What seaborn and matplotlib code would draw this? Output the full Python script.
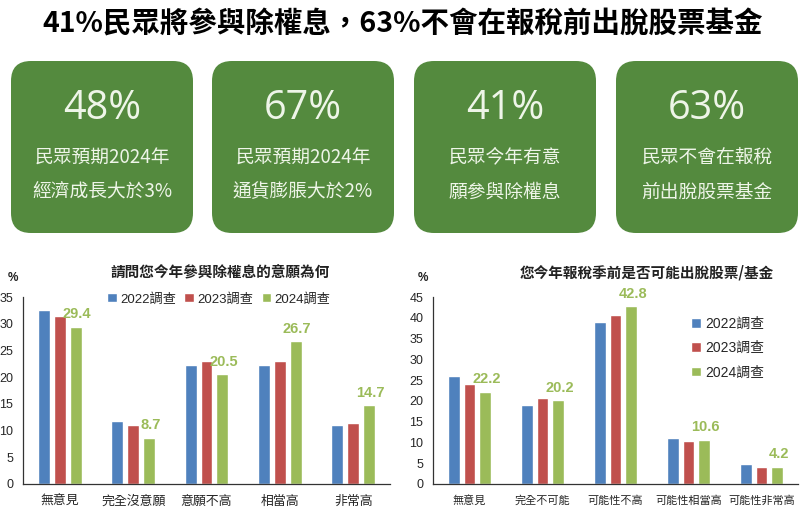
import matplotlib
matplotlib.use("Agg")
import matplotlib.pyplot as plt
from matplotlib.patches import FancyBboxPatch
from matplotlib.ticker import FixedLocator, NullFormatter
import seaborn as sns
import pandas as pd

sns.set_style("white")
CJK = ['Noto Sans CJK TC', 'DejaVu Sans']
NUM = ['Liberation Sans', 'Noto Sans CJK TC', 'DejaVu Sans']
plt.rcParams['font.family'] = CJK

# ---------------- data ----------------
title = "41%民眾將參與除權息，63%不會在報稅前出脫股票基金"
card_values = ["48%", "67%", "41%", "63%"]
card_line1 = ["民眾預期2024年", "民眾預期2024年", "民眾今年有意", "民眾不會在報稅"]
card_line2 = ["經濟成長大於3%", "通貨膨脹大於2%", "願參與除權息", "前出脫股票基金"]

series = ["2022調查", "2023調查", "2024調查"]

left_title = "請問您今年參與除權息的意願為何"
left_cats = ["無意見", "完全沒意願", "意願不高", "相當高", "非常高"]
left_2022 = [32.6, 11.8, 22.2, 22.2, 11.0]
left_2023 = [31.4, 11.0, 23.0, 23.0, 11.4]
left_2024 = [29.4, 8.7, 20.5, 26.7, 14.7]

right_title = "您今年報稅季前是否可能出脫股票/基金"
right_cats = ["無意見", "完全不可能", "可能性不高", "可能性相當高", "可能性非常高"]
right_2022 = [26.0, 19.0, 39.0, 11.0, 4.7]
right_2023 = [24.0, 20.6, 40.6, 10.3, 4.0]
right_2024 = [22.2, 20.2, 42.8, 10.6, 4.2]

colors = ["#4F81BD", "#C0504D", "#9BBB59"]

W, H = 806, 519
fig = plt.figure(figsize=(W / 100, H / 100), dpi=100)
fig.patch.set_facecolor("white")

# ---------------- header (pixel coordinates) ----------------
bg = fig.add_axes([0, 0, 1, 1])
bg.set_xlim(0, W)
bg.set_ylim(H, 0)
bg.axis("off")
bg.text(403, 24, title, ha="center", va="center", fontsize=20.5,
        fontweight="bold", color="black", family=CJK)

box_x = [11, 212, 414, 616]
box_w = 182
box_top, box_bot = 61, 233
for i in range(4):
    r = 20
    p = FancyBboxPatch((box_x[i] + r, box_top + r), box_w - 2 * r, box_bot - box_top - 2 * r,
                       boxstyle=f"round,pad={r}", facecolor="#548A3E", edgecolor="none")
    bg.add_patch(p)
    cx = box_x[i] + box_w / 2
    bg.text(cx, 109, card_values[i], ha="center", va="center", fontsize=28.5,
            color="#EEF5E8", family=['Open Sans', 'Noto Sans CJK TC'])
    bg.text(cx, 157, card_line1[i], ha="center", va="center", fontsize=13.5,
            color="#EEF5E8", family=CJK)
    bg.text(cx, 192, card_line2[i], ha="center", va="center", fontsize=13.5,
            color="#EEF5E8", family=CJK)


def make_chart(rect, cats, vals, ymax, ttl, title_x, pct_x, legend_kw, xlab_size):
    ax = fig.add_axes(rect)
    df = pd.DataFrame({
        "cat": cats * 3,
        "val": vals[0] + vals[1] + vals[2],
        "series": [s for s in series for _ in cats],
    })
    sns.barplot(data=df, x="cat", y="val", hue="series", palette=colors,
                width=0.65, gap=0.25, ax=ax, saturation=1, errorbar=None)
    ax.set_xlim(-0.5, len(cats) - 0.5)
    ax.set_ylim(0, ymax)
    ax.set_yticks(range(0, ymax + 1, 5))
    ax.set_xlabel("")
    ax.set_ylabel("")
    for s in ["top", "right"]:
        ax.spines[s].set_visible(False)
    for s in ["left", "bottom"]:
        ax.spines[s].set_color("#333333")
        ax.spines[s].set_linewidth(0.9)
    ax.tick_params(axis="x", which="major", length=0, pad=8, labelsize=xlab_size)
    ax.xaxis.set_minor_locator(FixedLocator([i - 0.5 for i in range(len(cats) + 1)]))
    ax.xaxis.set_minor_formatter(NullFormatter())
    ax.tick_params(axis="x", which="minor", length=4, width=0.9, color="#333333")
    ax.tick_params(axis="y", length=4, width=0.9, color="#333333", labelsize=9, pad=3)
    for lab in ax.get_yticklabels():
        lab.set_family(NUM)
    for lab in ax.get_xticklabels():
        lab.set_family(CJK)
    # labels on 2024 bars
    green = ax.containers[2]
    for bar, v in zip(green, vals[2]):
        ax.annotate(f"{v:.1f}", (bar.get_x() + bar.get_width() / 2, bar.get_height()),
                    xytext=(1, 4), textcoords="offset points", ha="center", va="bottom",
                    fontsize=10.5, fontweight="bold", color="#9BBB59", family=NUM)
    ax.legend_.remove()
    handles = [plt.Rectangle((0, 0), 1, 1, facecolor=c) for c in colors]
    ax.legend(handles, series, frameon=False,
              prop={"family": NUM, "size": legend_kw.pop("size")}, handlelength=0.7,
              handleheight=0.7, handletextpad=0.3, **legend_kw)
    bg.text(title_x, 272, ttl, ha="center", va="center", fontsize=10.5,
            fontweight="bold", color="#222222", family=CJK)
    bg.text(pct_x, 278, "%", ha="center", va="center", fontsize=8.5,
            fontweight="bold", color="#222222", family=NUM)
    return ax


top_px, bot_px = 297, 484
rect_l = [23 / W, (H - bot_px) / H, (390 - 23) / W, (bot_px - top_px) / H]
rect_r = [433 / W, (H - bot_px) / H, (798 - 433) / W, (bot_px - top_px) / H]

make_chart(rect_l, left_cats, [left_2022, left_2023, left_2024], 35,
           left_title, 220, 13,
           dict(loc="center", bbox_to_anchor=((219 - 23) / (390 - 23), (484 - 299) / 187),
                ncol=3, columnspacing=0.6, size=9.5), 9.3)
make_chart(rect_r, right_cats, [right_2022, right_2023, right_2024], 45,
           right_title, 647, 423,
           dict(loc="center", bbox_to_anchor=((728 - 433) / (798 - 433), (484 - 348) / 187),
                ncol=1, labelspacing=0.75, size=10), 8)

fig.savefig("out.png", dpi=100, facecolor="white")
